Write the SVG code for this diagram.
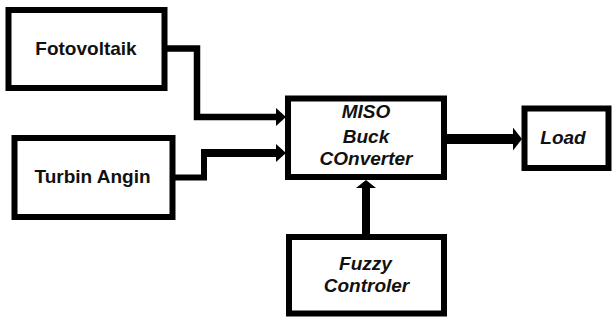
<svg xmlns="http://www.w3.org/2000/svg" width="612" height="320" viewBox="0 0 612 320">
<style>
.box{fill:#fff;stroke:#000;stroke-width:6}
.lbl{font-family:"Liberation Sans",Arial,sans-serif;font-weight:bold;font-size:19px;fill:#111;text-anchor:middle}
.it{font-style:italic}
.con{fill:none;stroke:#000;stroke-linejoin:miter;stroke-linecap:butt}
</style>
<defs>
<marker id="ah" markerUnits="userSpaceOnUse" markerWidth="10" markerHeight="18" viewBox="0 0 10 18" refX="0" refY="9" orient="auto"><path d="M0,0 L10,9 L0,18 z" fill="#000"/></marker>
<marker id="ahL" markerUnits="userSpaceOnUse" markerWidth="9" markerHeight="23" viewBox="0 0 9 23" refX="0" refY="11.5" orient="auto"><path d="M0,0 L9,11.5 L0,23 z" fill="#000"/></marker>
<marker id="ahU" markerUnits="userSpaceOnUse" markerWidth="8" markerHeight="20" viewBox="0 0 8 20" refX="0" refY="10" orient="auto"><path d="M0,0 L8,10 L0,20 z" fill="#000"/></marker>
</defs>
<rect width="612" height="320" fill="#fff"/>
<g id="connectors">
<path class="con" stroke-width="6.5" d="M166,48.5 H197 V117 H276" marker-end="url(#ah)"/>
<path class="con" stroke-width="6" d="M174,177.5 H204 V153"/>
<path class="con" stroke-width="8" d="M201,153 H276" marker-end="url(#ah)"/>
<path class="con" stroke-width="10" d="M446,139 H513" marker-end="url(#ahL)"/>
<path class="con" stroke-width="8" d="M366,236 V188" marker-end="url(#ahU)"/>
</g>
<g id="fotovoltaik">
<rect class="box" x="8.5" y="10" width="156" height="78"/>
<text class="lbl" x="86" y="55">Fotovoltaik</text>
</g>
<g id="turbin-angin">
<rect class="box" x="14.5" y="138" width="158" height="79"/>
<text class="lbl" x="92.5" y="183">Turbin Angin</text>
</g>
<g id="miso-buck-converter">
<rect class="box" x="288" y="98.5" width="156" height="78.5"/>
<text class="lbl it" x="366" y="117.5">MISO</text>
<text class="lbl it" x="366" y="143">Buck</text>
<text class="lbl it" x="366" y="165">COnverter</text>
</g>
<g id="load">
<rect class="box" x="524.5" y="108.5" width="84" height="59.5"/>
<text class="lbl it" x="563" y="143.5">Load</text>
</g>
<g id="fuzzy-controler">
<rect class="box" x="289" y="237" width="155" height="76.5"/>
<text class="lbl it" x="365.5" y="269.5">Fuzzy</text>
<text class="lbl it" x="366.5" y="291.5">Controler</text>
</g>
</svg>
